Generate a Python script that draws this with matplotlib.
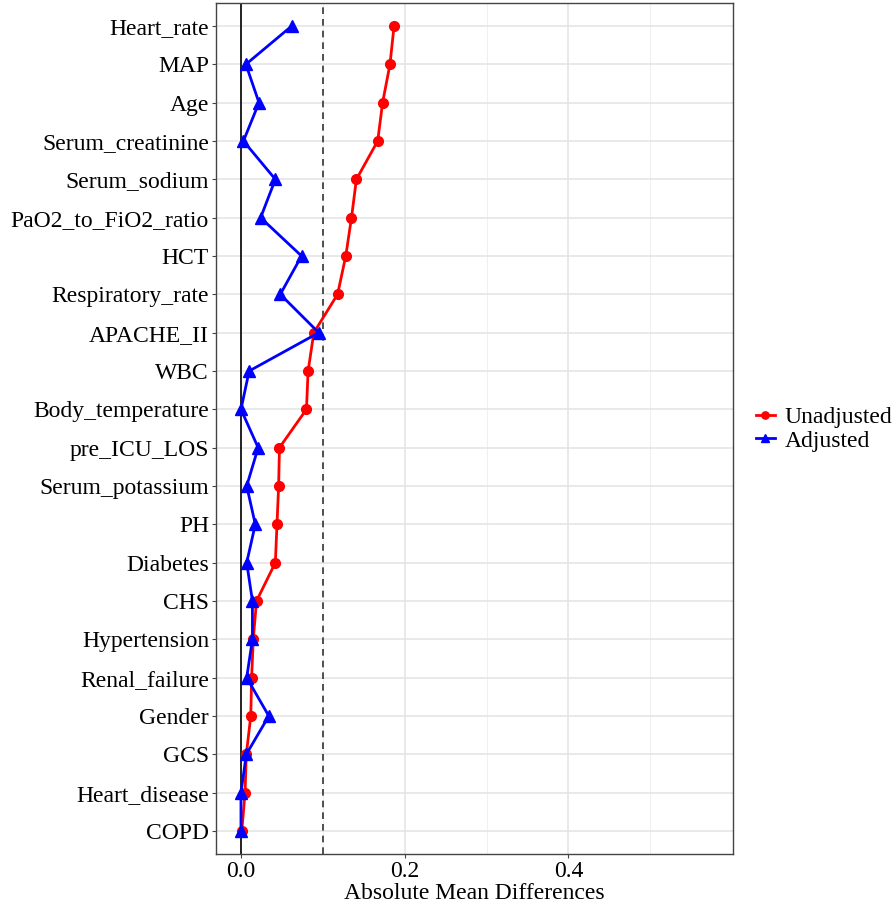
import matplotlib
matplotlib.use("Agg")
import matplotlib.pyplot as plt
import numpy as np

plt.rcParams['font.family'] = ['Liberation Serif', 'DejaVu Serif']

variables = ["Heart_rate", "MAP", "Age", "Serum_creatinine", "Serum_sodium",
             "PaO2_to_FiO2_ratio", "HCT", "Respiratory_rate", "APACHE_II", "WBC",
             "Body_temperature", "pre_ICU_LOS", "Serum_potassium", "PH", "Diabetes",
             "CHS", "Hypertension", "Renal_failure", "Gender", "GCS",
             "Heart_disease", "COPD"]
unadjusted = [0.187, 0.182, 0.173, 0.167, 0.141, 0.135, 0.128, 0.118, 0.089, 0.082,
              0.080, 0.047, 0.046, 0.044, 0.042, 0.019, 0.015, 0.013, 0.012, 0.0065,
              0.005, 0.001]
adjusted = [0.062, 0.006, 0.022, 0.003, 0.042, 0.024, 0.074, 0.048, 0.095, 0.010,
            0.000, 0.021, 0.007, 0.0175, 0.007, 0.014, 0.014, 0.007, 0.034, 0.0065,
            0.000, 0.000]
threshold = 0.1

fig = plt.figure(figsize=(8.93, 9.09), dpi=100)
ax = fig.add_axes([216/893, 1 - 854/909, (733-216)/893, (854-3)/909])

y = np.arange(len(variables), 0, -1)

ax.plot(unadjusted, y, color="red", marker="o", markersize=7, linewidth=2,
        label="Unadjusted", zorder=3)
ax.plot(adjusted, y, color="blue", marker="^", markersize=8, linewidth=2,
        label="Adjusted", zorder=4)

ax.axvline(0, color="black", linewidth=1.2, zorder=2)
ax.axvline(threshold, color="#333333", linewidth=1.2, linestyle=(0, (4, 3)), zorder=2)

ax.set_xlim(-0.0305, 0.601)
ax.set_ylim(0.4, len(variables) + 0.6)
ax.set_yticks(y)
ax.set_yticklabels(variables)
ax.set_xticks([0.0, 0.2, 0.4])
ax.set_xticklabels(["0.0", "0.2", "0.4"])
ax.set_xticks([0.1, 0.3, 0.5], minor=True)

ax.grid(which="major", color="#e3e3e3", linewidth=1.1, zorder=0)
ax.grid(which="minor", axis="x", color="#f0f0f0", linewidth=0.8, zorder=0)
ax.set_axisbelow(True)

for s in ax.spines.values():
    s.set_color("#444444")
    s.set_linewidth(1.0)

ax.tick_params(axis="both", which="major", labelsize=17, color="#444444",
               length=3, labelcolor="black", pad=2)
ax.tick_params(axis="x", which="minor", length=0)
ax.set_xlabel("Absolute Mean Differences", fontsize=17, labelpad=1)

fig.legend(loc="center left", bbox_to_anchor=(756/893, 1 - 429/909),
           frameon=False, fontsize=17, handlelength=0.8, handletextpad=0.4,
           labelspacing=0.1, borderaxespad=0, borderpad=0, markerscale=0.75)

fig.savefig("out.png", dpi=100)
